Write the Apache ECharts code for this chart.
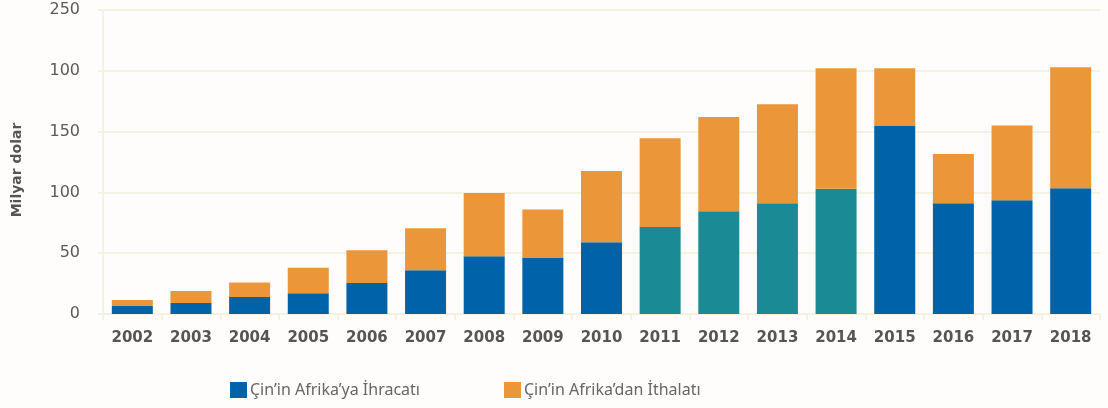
<!DOCTYPE html>
<html>
<head>
<meta charset="utf-8">
<script src="https://cdn.jsdelivr.net/npm/echarts@6/dist/echarts.min.js"></script>
<style>
html,body{margin:0;padding:0;background:#FEFDFB;}
#c{width:1108px;height:408px;}
</style>
</head>
<body>
<div id="c"></div>
<script>
var years = ['2002','2003','2004','2005','2006','2007','2008','2009','2010','2011','2012','2013','2014','2015','2016','2017','2018'];
var exports = [6.5, 9, 14, 17, 25.5, 36, 47.5, 46, 59, 71.5, 84.5, 91, 103, 155, 91, 93.5, 103.5];
var totals = [11.5, 19, 26, 38, 52.5, 70.5, 99.5, 86, 117.5, 144.5, 162, 172.5, 202, 202, 131.5, 155, 203];
var imports = totals.map(function (t, i) { return +(t - exports[i]).toFixed(1); });
var yTickLabels = ['0', '50', '100', '150', '100', '250'];
var tealYears = ['2011', '2012', '2013', '2014'];
var seriesNames = ['Çin\u2019in Afrika\u2019ya İhracatı', 'Çin\u2019in Afrika\u2019dan İthalatı'];

var BLUE = '#0062A8', TEAL = '#1A8B94', ORANGE = '#EC963A', GRIDC = '#F6F2E2';

var chart = echarts.init(document.getElementById('c'), null, {renderer: 'canvas'});
chart.setOption({
  backgroundColor: '#FEFDFB',
  animation: false,
  grid: {left: 103, right: 8, top: 10, bottom: 94},
  legend: {
    left: 225, top: 377,
    itemWidth: 17, itemHeight: 16, itemGap: 84,
    icon: 'rect',
    textStyle: {fontFamily: 'Noto Sans', fontSize: 16, color: '#666666', padding: [0, 0, 0, -2]},
    data: seriesNames
  },
  xAxis: {
    type: 'category',
    data: years,
    axisLine: {lineStyle: {color: GRIDC, width: 2}},
    axisTick: {show: true, length: 6, lineStyle: {color: GRIDC, width: 2}},
    axisLabel: {fontFamily: 'DejaVu Sans', fontWeight: 'bold', fontSize: 15, color: '#555555', margin: 17}
  },
  yAxis: {
    type: 'value', min: 0, max: 250, interval: 50,
    axisLine: {show: true, lineStyle: {color: GRIDC, width: 2}},
    axisTick: {show: true, length: 5, lineStyle: {color: GRIDC, width: 2}},
    splitLine: {lineStyle: {color: GRIDC, width: 2}},
    axisLabel: {
      fontFamily: 'DejaVu Sans', fontSize: 16, color: '#5a5a5a', margin: 23,
      formatter: function (v) { return yTickLabels[Math.round(v / 50)]; }
    }
  },
  graphic: [{
    type: 'text', x: 17, y: 170, rotation: Math.PI / 2,
    style: {text: 'Milyar dolar', font: 'bold 14px "DejaVu Sans"', fill: '#555555', align: 'center', verticalAlign: 'middle'}
  }],
  series: [{
    name: seriesNames[0], type: 'bar', stack: 't', barWidth: 41,
    itemStyle: {color: BLUE},
    data: exports.map(function (v, i) {
      return tealYears.indexOf(years[i]) >= 0 ? {value: v, itemStyle: {color: TEAL}} : v;
    })
  }, {
    name: seriesNames[1], type: 'bar', stack: 't', barWidth: 41,
    itemStyle: {color: ORANGE},
    data: imports
  }]
});
</script>
</body>
</html>
